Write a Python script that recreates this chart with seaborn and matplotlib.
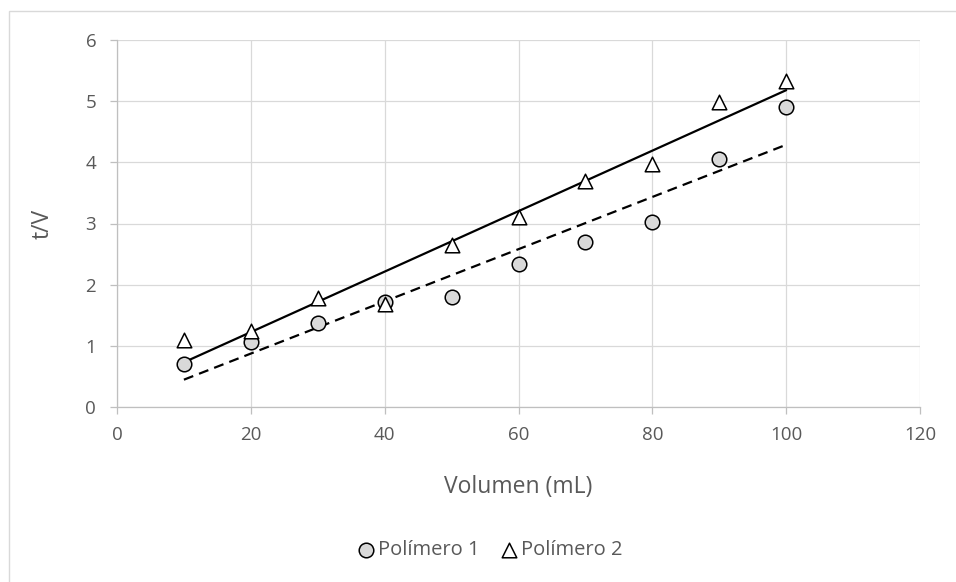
import matplotlib
matplotlib.use("Agg")
import matplotlib.pyplot as plt
import seaborn as sns
import numpy as np
import pandas as pd
from matplotlib.patches import Rectangle

volumen = [10, 20, 30, 40, 50, 60, 70, 80, 90, 100]
polimero_1 = [0.71, 1.06, 1.37, 1.72, 1.80, 2.33, 2.70, 3.03, 4.05, 4.90]
polimero_2 = [1.10, 1.25, 1.79, 1.68, 2.65, 3.11, 3.69, 3.97, 4.98, 5.33]
x_ticks = [0, 20, 40, 60, 80, 100, 120]
y_ticks = [0, 1, 2, 3, 4, 5, 6]
labels = ["Polímero 1", "Polímero 2"]

sns.set_style("white")
plt.rcParams['font.family'] = ['Open Sans', 'DejaVu Sans']

TXT = "#595959"
GRID = "#d9d9d9"
AX = "#bfbfbf"

df = pd.DataFrame({"v": volumen, "p1": polimero_1, "p2": polimero_2})

fig = plt.figure(figsize=(9.56, 5.82), dpi=100)
ax = fig.add_axes([117/956, 1-407/582, (920-117)/956, (407-40)/582])

# chart area border
fig.patches.append(Rectangle((9/956, -0.1), 1.2, 1 - 11/582 + 0.1, transform=fig.transFigure,
                             fill=False, edgecolor=GRID, lw=1.0, zorder=0))

# trendlines
sns.regplot(data=df, x="v", y="p2", scatter=False, ci=None, ax=ax,
            line_kws=dict(color="black", lw=1.6, zorder=3))
sns.regplot(data=df, x="v", y="p1", scatter=False, ci=None, ax=ax,
            line_kws=dict(color="black", lw=1.6, ls=(0, (4.5, 2.8)), zorder=3))

# points
sns.scatterplot(data=df, x="v", y="p1", marker="o", s=110, color="#d9d9d9",
                edgecolor="black", linewidth=1.1, ax=ax, zorder=4, label=labels[0])
sns.scatterplot(data=df, x="v", y="p2", marker="^", s=110, color="white",
                edgecolor="black", linewidth=1.1, ax=ax, zorder=5, label=labels[1])

ax.set_xlim(0, 120)
ax.set_ylim(0, 6)
ax.set_xticks(x_ticks)
ax.set_yticks(y_ticks)
ax.grid(True, color=GRID, lw=0.9)
ax.set_axisbelow(True)
for s in ["top", "right"]:
    ax.spines[s].set_visible(False)
for s in ["left", "bottom"]:
    ax.spines[s].set_color(AX)
    ax.spines[s].set_linewidth(0.9)
ax.tick_params(axis="both", which="major", length=5, width=0.9, color=AX,
               labelsize=13.5, labelcolor=TXT, direction="out",
               left=True, bottom=True)
ax.tick_params(axis="y", pad=10)
ax.tick_params(axis="x", pad=9)

ax.set_xlabel("Volumen (mL)", fontsize=16.5, color=TXT, labelpad=22)
ax.set_ylabel("t/V", fontsize=16.5, color=TXT, labelpad=22)

handles, _ = ax.get_legend_handles_labels()
ax.legend(handles=handles, labels=labels, loc="center", bbox_to_anchor=(490/956, 32/582),
          bbox_transform=fig.transFigure, ncol=2, frameon=False, fontsize=14.5,
          labelcolor=TXT, handletextpad=0.15, columnspacing=1.0, markerscale=1.0,
          handlelength=0.9)

fig.savefig("out.png", dpi=100, facecolor="white")
